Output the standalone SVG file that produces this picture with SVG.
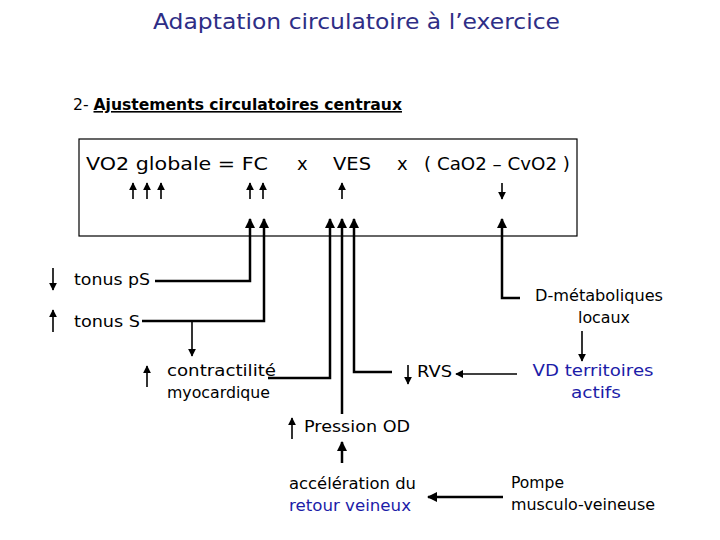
<svg xmlns="http://www.w3.org/2000/svg" width="720" height="540" viewBox="0 0 720 540">
<defs>
<marker id="ah" viewBox="0 0 10 10" refX="9" refY="5" markerWidth="4" markerHeight="4" orient="auto" markerUnits="strokeWidth"><path d="M0,0 L10,5 L0,10 z" fill="#000"/></marker>
<marker id="ahs" viewBox="0 0 10 10" refX="9" refY="5" markerWidth="5" markerHeight="5" orient="auto" markerUnits="strokeWidth"><path d="M0,0 L10,5 L0,10 z" fill="#000"/></marker>
<style>
text{font-family:"DejaVu Sans","Noto Sans",sans-serif;font-size:16px;fill:#000}
.blue{fill:#1c1ca8}
.title{font-size:22px;fill:#2e2e86}
.f{font-size:18px}
.c{fill:none;stroke:#000;stroke-width:2.5}
.s{fill:none;stroke:#000;stroke-width:1.6}
</style>
</defs>
<rect width="720" height="540" fill="#fff"/>
<g id="title"><text class="title" x="153" y="29" textLength="407" lengthAdjust="spacingAndGlyphs">Adaptation circulatoire à l’exercice</text></g>
<g id="subtitle"><text x="73" y="110" textLength="329" lengthAdjust="spacingAndGlyphs">2- <tspan font-weight="bold" text-decoration="underline">Ajustements circulatoires centraux</tspan></text></g>
<g id="formula">
<rect x="79" y="139" width="498" height="97" fill="none" stroke="#000" stroke-width="1.2"/>
<text class="f" x="86" y="170" textLength="182" lengthAdjust="spacingAndGlyphs">VO2  globale  =  FC</text>
<text class="f" x="297" y="170">x</text>
<text class="f" x="333" y="170" textLength="38" lengthAdjust="spacingAndGlyphs">VES</text>
<text class="f" x="397" y="170">x</text>
<text class="f" x="424" y="170" textLength="146" lengthAdjust="spacingAndGlyphs">( CaO2 – CvO2 )</text>
<g class="s" marker-end="url(#ahs)">
<line x1="133" y1="199" x2="133" y2="183"/><line x1="147" y1="199" x2="147" y2="183"/><line x1="161" y1="199" x2="161" y2="183"/>
<line x1="250" y1="199" x2="250" y2="183"/><line x1="263" y1="199" x2="263" y2="183"/>
<line x1="342" y1="199" x2="342" y2="183"/>
<line x1="502" y1="183" x2="502" y2="199"/>
</g>
</g>
<g id="tonus-pS"><line class="s" x1="53" y1="268" x2="53" y2="290" marker-end="url(#ahs)"/><text x="74" y="285" textLength="76" lengthAdjust="spacingAndGlyphs">tonus pS</text></g>
<g id="tonus-S"><line class="s" x1="53" y1="332" x2="53" y2="310" marker-end="url(#ahs)"/><text x="74" y="327" textLength="66" lengthAdjust="spacingAndGlyphs">tonus S</text></g>
<g id="contractilite"><line class="s" x1="147" y1="387" x2="147" y2="366" marker-end="url(#ahs)"/><text x="167" y="376" textLength="109" lengthAdjust="spacingAndGlyphs">contractilité</text><text x="167" y="398" textLength="103" lengthAdjust="spacingAndGlyphs">myocardique</text></g>
<g id="rvs"><line class="s" x1="408" y1="365" x2="408" y2="384" marker-end="url(#ahs)"/><text x="417" y="377" textLength="35" lengthAdjust="spacingAndGlyphs">RVS</text></g>
<g id="d-metaboliques"><text x="599" y="301" text-anchor="middle" textLength="128" lengthAdjust="spacingAndGlyphs">D-métaboliques</text><text x="604" y="323" text-anchor="middle" textLength="52" lengthAdjust="spacingAndGlyphs">locaux</text></g>
<g id="vd"><text class="blue" x="593" y="376" text-anchor="middle" textLength="121" lengthAdjust="spacingAndGlyphs">VD territoires</text><text class="blue" x="596" y="398" text-anchor="middle" textLength="50" lengthAdjust="spacingAndGlyphs">actifs</text></g>
<g id="pression-od"><line class="s" x1="292" y1="439" x2="292" y2="418" marker-end="url(#ahs)"/><text x="304" y="432" textLength="106" lengthAdjust="spacingAndGlyphs">Pression  OD</text></g>
<g id="acceleration"><text x="289" y="489" textLength="127" lengthAdjust="spacingAndGlyphs">accélération du</text><text class="blue" x="289" y="511" textLength="122" lengthAdjust="spacingAndGlyphs">retour veineux</text></g>
<g id="pompe"><text x="511" y="488" textLength="53" lengthAdjust="spacingAndGlyphs">Pompe</text><text x="511" y="510" textLength="144" lengthAdjust="spacingAndGlyphs">musculo-veineuse</text></g>
<g id="connectors">
<polyline class="c" points="155,281 250,281 250,219" marker-end="url(#ah)"/>
<polyline class="c" points="142,321 264,321 264,219" marker-end="url(#ah)"/>
<line class="s" x1="192" y1="321" x2="192" y2="356" marker-end="url(#ahs)"/>
<polyline class="c" points="268,378 330,378 330,219" marker-end="url(#ah)"/>
<line class="c" x1="342" y1="414" x2="342" y2="219" marker-end="url(#ah)"/>
<polyline class="c" points="392,372 354,372 354,219" marker-end="url(#ah)"/>
<polyline class="c" points="520,298 502,298 502,219" marker-end="url(#ah)"/>
<line class="s" x1="582" y1="331" x2="582" y2="361" marker-end="url(#ahs)"/>
<line class="s" x1="517" y1="374" x2="456" y2="374" marker-end="url(#ahs)"/>
<line class="c" x1="342" y1="463" x2="342" y2="442" marker-end="url(#ah)"/>
<line class="c" x1="503" y1="497" x2="428" y2="497" marker-end="url(#ah)"/>
</g>
</svg>
